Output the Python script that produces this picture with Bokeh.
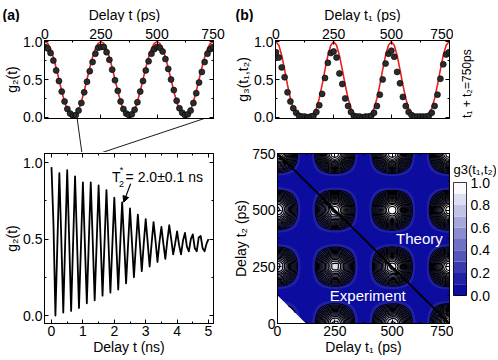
import numpy as np
from bokeh.plotting import figure
from bokeh.layouts import row, column
from bokeh.models import (Range1d, LinearAxis, FixedTicker, PrintfTickFormatter, Label,
                          Arrow, NormalHead, Title)
from bokeh.core.properties import value
from bokeh.embed import file_html
from bokeh.resources import INLINE

FONT = "Liberation Sans"

# ---------------- data ----------------
T_PS = np.linspace(0, 750, 61)          # 12.5 ps sampling

G2_DATA = [0.93, 0.91, 0.85, 0.75, 0.62, 0.48, 0.34, 0.21, 0.11, 0.05,
           0.02, 0.03, 0.09, 0.19, 0.33, 0.47, 0.61, 0.73, 0.84, 0.92,
           0.93, 0.93, 0.86, 0.76, 0.63, 0.49, 0.35, 0.21, 0.11, 0.05,
           0.03, 0.04, 0.10, 0.20, 0.34, 0.48, 0.62, 0.74, 0.84, 0.90,
           0.93, 0.92, 0.87, 0.77, 0.64, 0.50, 0.36, 0.22, 0.12, 0.06,
           0.03, 0.04, 0.09, 0.19, 0.32, 0.46, 0.60, 0.73, 0.84, 0.90,
           0.93]
G2_THEORY = [1.000, 0.976, 0.905, 0.794, 0.655, 0.500, 0.345, 0.206, 0.095, 0.024,
             0.000, 0.024, 0.095, 0.206, 0.345, 0.500, 0.655, 0.794, 0.905, 0.976,
             1.000, 0.976, 0.905, 0.794, 0.655, 0.500, 0.345, 0.206, 0.095, 0.024,
             0.000, 0.024, 0.095, 0.206, 0.345, 0.500, 0.655, 0.794, 0.905, 0.976,
             1.000, 0.976, 0.905, 0.794, 0.655, 0.500, 0.345, 0.206, 0.095, 0.024,
             0.000, 0.024, 0.095, 0.206, 0.345, 0.500, 0.655, 0.794, 0.905, 0.976,
             1.000]
G3_DATA = [0.86, 0.79, 0.66, 0.53, 0.33, 0.21, 0.12, 0.06, 0.02, 0.01,
           0.01, 0.00, 0.01, 0.02, 0.07, 0.16, 0.31, 0.52, 0.72, 0.85,
           0.87, 0.79, 0.58, 0.44, 0.25, 0.15, 0.07, 0.02, 0.01, 0.01,
           0.00, 0.01, 0.01, 0.02, 0.06, 0.15, 0.30, 0.50, 0.71, 0.84,
           0.88, 0.80, 0.60, 0.45, 0.27, 0.15, 0.07, 0.03, 0.01, 0.01,
           0.01, 0.01, 0.01, 0.02, 0.06, 0.15, 0.30, 0.51, 0.70, 0.83,
           0.86]
G3_THEORY = [1.000, 0.952, 0.818, 0.630, 0.428, 0.250, 0.119, 0.042, 0.009, 0.001,
             0.000, 0.001, 0.009, 0.042, 0.119, 0.250, 0.428, 0.630, 0.818, 0.952,
             1.000, 0.952, 0.818, 0.630, 0.428, 0.250, 0.119, 0.042, 0.009, 0.001,
             0.000, 0.001, 0.009, 0.042, 0.119, 0.250, 0.428, 0.630, 0.818, 0.952,
             1.000, 0.952, 0.818, 0.630, 0.428, 0.250, 0.119, 0.042, 0.009, 0.001,
             0.000, 0.001, 0.009, 0.042, 0.119, 0.250, 0.428, 0.630, 0.818, 0.952,
             1.000]

T_NS = np.linspace(0, 5, 81)
G2_LONG = [0.97, 0.60, 0.00, 0.47, 0.93, 0.50, 0.02, 0.49, 0.95, 0.50,
           0.03, 0.47, 0.91, 0.49, 0.05, 0.45, 0.87, 0.47, 0.08, 0.48,
           0.87, 0.49, 0.10, 0.47, 0.85, 0.50, 0.13, 0.47, 0.82, 0.49,
           0.15, 0.46, 0.77, 0.47, 0.17, 0.46, 0.74, 0.48, 0.21, 0.46,
           0.70, 0.48, 0.25, 0.46, 0.66, 0.48, 0.29, 0.47, 0.63, 0.48,
           0.32, 0.47, 0.61, 0.49, 0.35, 0.48, 0.58, 0.47, 0.37, 0.49,
           0.59, 0.50, 0.40, 0.47, 0.55, 0.46, 0.40, 0.49, 0.54, 0.45,
           0.42, 0.50, 0.53, 0.44, 0.42, 0.51, 0.52, 0.44, 0.42, 0.47,
           0.50]

T_SUM_CUT = 750
T_SUM_MIN = 125
ZOOM_PS = [0, 750]

PS_TICKS = [0, 250, 500, 750]
PS_MINOR = [125, 375, 625]
G_TICKS = [0.0, 0.5, 1.0]
G_MINOR = [0.25, 0.75]
NS_TICKS = [0, 1, 2, 3, 4, 5]
NS_MINOR = [0.5, 1.5, 2.5, 3.5, 4.5]
CB_TICKS = [0.0, 0.2, 0.4, 0.6, 0.8, 1.0]
FILL_LEVELS = [-0.001, 0.1, 0.2, 0.3, 0.4, 0.5, 0.6, 0.7, 0.8, 0.9, 1.001]
LINE_LEVELS = [0.2, 0.25, 0.3, 0.35, 0.4, 0.45, 0.5, 0.55, 0.6, 0.65,
               0.7, 0.75, 0.8, 0.85, 0.9, 0.95]
PALETTE = ["#0c0c9e", "#2020a5", "#3a3aaf", "#5555ba", "#7070c5",
           "#8b8bd0", "#a6a6db", "#c2c2e6", "#dedef1", "#fafafc"]

# ---------------- layout constants (px) ----------------
H_HDR = 22
WA = 230
WB_MAIN, WB_SIDE = 223, 43
W_TOTAL = WA + WB_MAIN + WB_SIDE
H_TOP = 103
H_GAP, GAP_OVERLAP = 34, 7
H_ABOT = 206
H_BBOT = 233
AT_L, AT_T, AT_W, AT_H = 44, 18, 174, 78
AB_L, AB_T, AB_W, AB_H = 44, 1, 169, 170
BT_L, BT_T, BT_W, BT_H = 45, 18, 174, 78
BB_L, BB_T, BB_W, BB_H = 45, 28, 174, 170
CB_SPACER = 1
CB_TOP, CB_LEN, CB_W = 56, 113, 13

XA = (-2, 752)
YG = (-0.015, 1.015)
XNS = (-0.223, 5.159)
YNS = (-0.052, 1.059)
XB = (-2, 752)
PS2 = (0, 750)


def base_fig(w, h, xr, yr, **kw):
    p = figure(width=w, height=h, x_range=Range1d(*xr), y_range=Range1d(*yr),
               output_backend="svg", toolbar_location=None, **kw)
    p.grid.visible = False
    p.background_fill_color = "white"
    p.border_fill_color = "white"
    return p


def make_fig(w, h, xr, yr, l, t, fw, fh, x_above):
    p = base_fig(w, h, xr, yr, x_axis_location="above" if x_above else "below",
                 min_border_left=l, min_border_top=t,
                 min_border_right=w - l - fw, min_border_bottom=h - t - fh)
    p.outline_line_color = "black"
    p.outline_line_width = 1
    return p


def blank_fig(w, h, xr, yr, **kw):
    p = base_fig(w, h, xr, yr, x_axis_location=None, y_axis_location=None,
                 min_border_left=0, min_border_right=0, min_border_top=0,
                 min_border_bottom=0, **kw)
    p.outline_line_color = None
    return p


def style(ax, show_labels=True, ticks=None, minor=None, fmt=None, label=None):
    if ticks is not None:
        ax.ticker = FixedTicker(ticks=ticks, minor_ticks=minor or [])
    if fmt is not None:
        ax.formatter = PrintfTickFormatter(format=fmt)
    ax.axis_line_color = "black"
    ax.major_tick_line_color = "black"
    ax.minor_tick_line_color = "black"
    ax.major_tick_in = 4
    ax.major_tick_out = 0
    ax.minor_tick_in = 2
    ax.minor_tick_out = 0
    ax.major_label_text_font = FONT
    if show_labels:
        ax.major_label_text_color = "black"
        ax.major_label_text_font_size = "14px"
        ax.major_label_standoff = 2
    else:
        ax.major_label_text_color = None
        ax.major_label_text_font_size = "0px"
        ax.major_label_standoff = 0
    ax.axis_label_text_font = FONT
    ax.axis_label_text_font_size = "14px"
    ax.axis_label_text_font_style = "normal"
    ax.axis_label_text_color = "black"
    ax.axis_label_standoff = 0
    if label is not None:
        ax.axis_label = label


def add_tick_axis(p, side, ticks, minor):
    ax = LinearAxis()
    style(ax, show_labels=False, ticks=ticks, minor=minor)
    p.add_layout(ax, side)


def txt(p, x, y, s, size="14px", color="black", style_="normal", align="left"):
    p.add_layout(Label(x=x, y=y, text=s, text_font=FONT, text_font_size=size,
                       text_color=color, text_font_style=style_, text_align=align,
                       text_baseline="middle"))


def abot_px(x):
    return AB_L + (x - XNS[0]) / (XNS[1] - XNS[0]) * AB_W


def atop_px(x):
    return AT_L + (x - XA[0]) / (XA[1] - XA[0]) * AT_W


# ---------------- header (panel letters + top axis titles) ----------------
hdr = blank_fig(W_TOTAL, H_HDR, (0, W_TOTAL), (H_HDR, 0))
hdr.text(x=[2, WA + 5], y=[14, 14], text=["(a)", "(b)"], text_font=value(FONT),
         text_font_size="14px", text_font_style="bold", text_baseline="middle",
         text_align="left", text_color="black")
hdr.text(x=[AT_L + AT_W / 2 - 7, WA + BT_L + BT_W / 2], y=[14, 14],
         text=["Delay t (ps)", "Delay t₁ (ps)"], text_font=value(FONT),
         text_font_size="14px", text_baseline="middle", text_align="center",
         text_color="black")

# ---------------- (a) top ----------------
pa1 = make_fig(WA, H_TOP, XA, YG, AT_L, AT_T, AT_W, AT_H, True)
style(pa1.xaxis[0], ticks=PS_TICKS, minor=PS_MINOR)
style(pa1.yaxis[0], ticks=G_TICKS, minor=G_MINOR, fmt="%.1f", label="g₂(t)")
add_tick_axis(pa1, "below", PS_TICKS, PS_MINOR)
add_tick_axis(pa1, "right", G_TICKS, G_MINOR)
pa1.line(T_PS, G2_THEORY, line_color="#ee1c1c", line_width=1.6)
pa1.scatter(T_PS, G2_DATA, size=6, fill_color="#2b2b2b", line_color="black", line_width=0.6)

# ---------------- zoom connector lines (transparent strip over the gap) ----------------
gap = blank_fig(WA, H_GAP, (0, WA), (H_GAP, 0), margin=(-GAP_OVERLAP, 0, 0, 0))
gap.background_fill_color = None
gap.border_fill_color = None
gap_top = 0                                              # = frame bottom of (a) top
gap_bot = H_GAP + AB_T                                   # = frame top of (a) bottom
gx0 = [atop_px(ps) for ps in ZOOM_PS]
gx1 = [abot_px(ps / 1000.0) for ps in ZOOM_PS]
gap.segment(x0=gx0, y0=[gap_top] * 2, x1=gx1, y1=[gap_bot] * 2,
            line_color="black", line_width=0.9)

# ---------------- (a) bottom ----------------
pa2 = make_fig(WA, H_ABOT, XNS, YNS, AB_L, AB_T, AB_W, AB_H, False)
style(pa2.xaxis[0], ticks=NS_TICKS, minor=NS_MINOR, label="Delay t (ns)")
style(pa2.yaxis[0], ticks=G_TICKS, minor=G_MINOR, fmt="%.1f", label="g₂(t)")
add_tick_axis(pa2, "above", NS_TICKS, NS_MINOR)
add_tick_axis(pa2, "right", G_TICKS, G_MINOR)
pa2.line(T_NS, G2_LONG, line_color="black", line_width=1.8, line_join="round")
txt(pa2, 1.93, 0.908, "T", size="14px")
txt(pa2, 2.17, 0.950, "*", size="9px")
txt(pa2, 2.15, 0.862, "2", size="9px")
txt(pa2, 2.36, 0.908, "= 2.0±0.1 ns", size="14px")
pa2.add_layout(Arrow(end=NormalHead(size=6, fill_color="black", line_color="black"),
                     x_start=2.52, y_start=0.862, x_end=2.30, y_end=0.741,
                     line_color="black", line_width=1.2))

# ---------------- (b) top ----------------
pb1 = make_fig(WB_MAIN, H_TOP, XB, YG, BT_L, BT_T, BT_W, BT_H, True)
style(pb1.xaxis[0], ticks=PS_TICKS, minor=PS_MINOR)
style(pb1.yaxis[0], ticks=G_TICKS, minor=G_MINOR, fmt="%.1f", label="g₃(t₁,t₂)")
add_tick_axis(pb1, "below", PS_TICKS, PS_MINOR)
add_tick_axis(pb1, "right", G_TICKS, G_MINOR)
pb1.line(T_PS, G3_THEORY, line_color="#ee1c1c", line_width=1.6)
pb1.scatter(T_PS, G3_DATA, size=6, fill_color="#2b2b2b", line_color="black", line_width=0.6)

side_b = blank_fig(WB_SIDE, H_TOP, (0, WB_SIDE), (H_TOP, 0))
side_b.text(x=[13], y=[57], text=["t₁ + t₂=750ps"], angle=np.pi / 2,
            text_font=value(FONT), text_font_size="12px", text_align="center",
            text_baseline="middle", text_color="black")

# ---------------- (b) bottom ----------------
pb2 = make_fig(WB_MAIN, H_BBOT, PS2, PS2, BB_L, BB_T, BB_W, BB_H, False)
pb2.background_fill_color = PALETTE[0]          # hides seams between filled bands
style(pb2.xaxis[0], ticks=PS_TICKS, minor=PS_MINOR, label="Delay t₁ (ps)")
style(pb2.yaxis[0], ticks=PS_TICKS, minor=PS_MINOR, label="Delay t₂ (ps)")
add_tick_axis(pb2, "above", PS_TICKS, PS_MINOR)
add_tick_axis(pb2, "right", PS_TICKS, PS_MINOR)

T1, T2 = np.meshgrid(T_PS, T_PS)
z_exp = np.outer(np.array(G2_DATA), np.array(G2_DATA))
z_th = np.outer(np.array(G2_THEORY), np.array(G2_THEORY))
Z = np.where(T1 + T2 < T_SUM_CUT, z_exp, z_th)
Z[T1 + T2 < T_SUM_MIN] = np.nan

# region with no measured data (t1 + t2 < T_SUM_MIN) left white
pb2.patch(x=[0, 0, T_SUM_MIN], y=[0, T_SUM_MIN, 0], fill_color="white", line_color="white",
          line_width=0.5)
pb2.contour(T_PS, T_PS, Z, levels=FILL_LEVELS, fill_color=PALETTE)
pb2.contour(T_PS, T_PS, Z, levels=LINE_LEVELS, line_color="black", line_width=1.1)
diag_x = np.array([0, T_SUM_CUT])
pb2.line(diag_x, T_SUM_CUT - diag_x, line_color="black", line_width=1.8)
txt(pb2, 517, 375, "Theory", size="15px", color="white")
txt(pb2, 228, 124, "Experiment", size="15px", color="white")

# colour bar figure (in its own column so its borders are not aligned with (b) bottom)
cbs = blank_fig(WB_SIDE, CB_SPACER, (0, 1), (0, 1))
H_CBB = H_BBOT - CB_SPACER
cbb = base_fig(WB_SIDE, H_CBB, (0, 1), (0, 1), x_axis_location=None, y_axis_location="right",
               min_border_left=0, min_border_top=CB_TOP,
               min_border_right=WB_SIDE - CB_W, min_border_bottom=H_CBB - CB_TOP - CB_LEN)
cbb.outline_line_color = "black"
cbb.outline_line_width = 1
style(cbb.yaxis[0], ticks=CB_TICKS, minor=[], fmt="%.1f")
cbb.yaxis[0].major_tick_in = 0
cbb.yaxis[0].major_tick_line_color = None
cbb.yaxis[0].axis_line_color = None
cbb.yaxis[0].major_label_standoff = 4
cbb.quad(left=0, right=1, bottom=FILL_LEVELS[:-1], top=FILL_LEVELS[1:],
         fill_color=PALETTE, line_color=None)
cbb.add_layout(Title(text="g3(t₁,t₂)", align="left", text_font=FONT, text_font_size="13px",
                     text_font_style="normal", text_color="black", standoff=12), "above")

layout = column(hdr,
                row(column(pa1, gap, pa2),
                    column(row(pb1, side_b), row(pb2, column(cbs, cbb)))))
open("out.html", "w").write(file_html(layout, INLINE))
